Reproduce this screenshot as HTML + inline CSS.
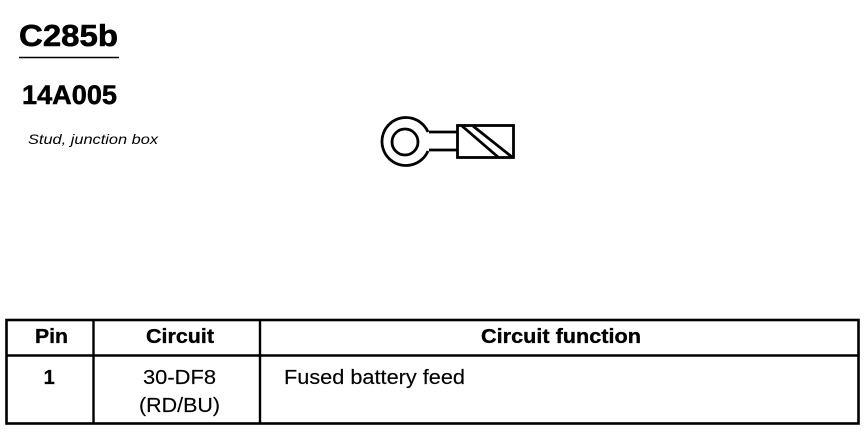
<!DOCTYPE html>
<html>
<head>
<meta charset="utf-8">
<style>
html,body{margin:0;padding:0;background:#fff;width:864px;height:432px;overflow:hidden}
svg{display:block}
text{font-family:"Liberation Sans",sans-serif;fill:#000}
.h{font-weight:bold;font-size:20.5px;stroke:#000;stroke-width:.35px}
.b{font-size:20.5px;stroke:#000;stroke-width:.15px}
</style>
</head>
<body>
<svg width="864" height="432" viewBox="0 0 864 432" xmlns="http://www.w3.org/2000/svg">
<rect width="864" height="432" fill="#fff"/>
<text x="19" y="46" font-size="31" font-weight="bold" stroke="#000" stroke-width=".6" textLength="99" lengthAdjust="spacingAndGlyphs">C285b</text>
<line x1="19" y1="57.500" x2="119" y2="57.500" stroke="#000" stroke-width="1.600"/>
<text x="22" y="104" font-size="27" font-weight="bold" stroke="#000" stroke-width=".5" textLength="95" lengthAdjust="spacingAndGlyphs">14A005</text>
<text x="28" y="144" font-size="13.500" font-style="italic" textLength="130" lengthAdjust="spacingAndGlyphs">Stud, junction box</text>

<g fill="none" stroke="#000" stroke-width="2.800">
<path d="M429 132 H457 M429 150 H457"/>
<path d="M428 132 A24 24 0 1 0 428 151"/>
<circle cx="405" cy="142" r="13"/>
<rect x="457.500" y="125.500" width="56" height="32"/>
<line x1="462" y1="126" x2="498" y2="157"/>
<line x1="473" y1="126" x2="512" y2="157"/>
</g>

<g stroke="#000" fill="none">
<rect x="6.500" y="320" width="852" height="103.500" stroke-width="2.600"/>
<line x1="6" y1="355.500" x2="859" y2="355.500" stroke-width="2.600"/>
<line x1="93.500" y1="320" x2="93.500" y2="424" stroke-width="2.400"/>
<line x1="260" y1="320" x2="260" y2="424" stroke-width="2.400"/>
</g>

<text class="h" x="35" y="343" textLength="33" lengthAdjust="spacingAndGlyphs">Pin</text>
<text class="h" x="146" y="343" textLength="68" lengthAdjust="spacingAndGlyphs">Circuit</text>
<text class="h" x="481" y="343" textLength="160" lengthAdjust="spacingAndGlyphs">Circuit function</text>
<text class="b" x="43.500" y="384" font-weight="bold">1</text>
<text class="b" x="143" y="384" textLength="73" lengthAdjust="spacingAndGlyphs">30-DF8</text>
<text class="b" x="139" y="412" textLength="81" lengthAdjust="spacingAndGlyphs">(RD/BU)</text>
<text class="b" x="284" y="384" textLength="181" lengthAdjust="spacingAndGlyphs">Fused battery feed</text>
</svg>
</body>
</html>
